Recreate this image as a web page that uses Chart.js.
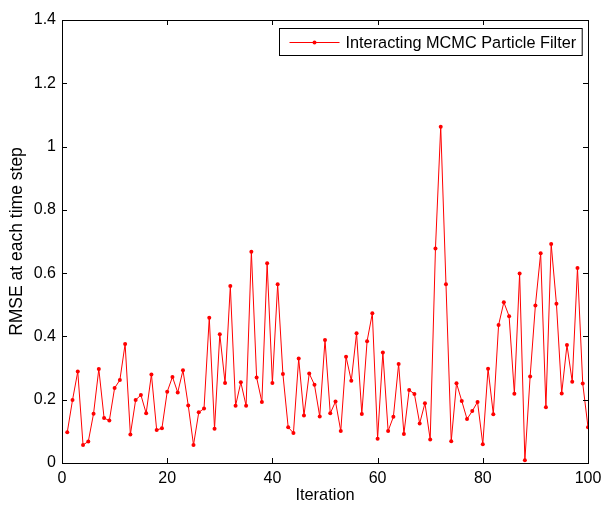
<!DOCTYPE html>
<html>
<head>
<meta charset="utf-8">
<script src="https://cdn.jsdelivr.net/npm/chart.js@4/dist/chart.umd.min.js"></script>
<style>
  body { margin: 0; background: #fff; }
  #wrap { width: 603px; height: 509px; }
</style>
</head>
<body>
<div id="wrap"><canvas id="graph"></canvas></div>
<script>
const seriesLabel = 'Interacting MCMC Particle Filter';
const xTicks = [0, 20, 40, 60, 80, 100];
const yTicks = [0, 0.2, 0.4, 0.6, 0.8, 1, 1.2, 1.4];

// RMSE, iterations 1..100
const rmse = [
    0.097, 0.199, 0.289, 0.057, 0.068, 0.156, 0.297, 0.142, 0.134, 0.237,
    0.262, 0.376, 0.090, 0.199, 0.215, 0.157, 0.280, 0.104, 0.110, 0.225,
    0.272, 0.223, 0.293, 0.182, 0.057, 0.160, 0.172, 0.459, 0.108, 0.407,
    0.253, 0.559, 0.181, 0.255, 0.181, 0.668, 0.270, 0.193, 0.631, 0.253,
    0.565, 0.281, 0.113, 0.095, 0.330, 0.150, 0.283, 0.247, 0.147, 0.389,
    0.157, 0.194, 0.101, 0.336, 0.260, 0.410, 0.155, 0.385, 0.473, 0.077,
    0.349, 0.101, 0.146, 0.313, 0.092, 0.231, 0.218, 0.125, 0.189, 0.074,
    0.678, 1.063, 0.565, 0.069, 0.252, 0.196, 0.139, 0.164, 0.193, 0.059,
    0.298, 0.154, 0.436, 0.508, 0.464, 0.219, 0.599, 0.009, 0.273, 0.498,
    0.663, 0.176, 0.692, 0.503, 0.220, 0.373, 0.257, 0.616, 0.251, 0.113
];

const FONT = '"Liberation Sans", Arial, Helvetica, sans-serif';
const points = rmse.map((v, i) => ({ x: i + 1, y: v }));

// MATLAB-like frame with inward ticks on all four sides, plus boxed legend
const framePlugin = {
    id: 'frame',
    afterDraw(chart) {
        const { ctx, chartArea: a, scales } = chart;
        const len = 5;
        ctx.save();
        ctx.strokeStyle = '#000';
        ctx.lineWidth = 1;
        ctx.strokeRect(Math.round(a.left) + 0.5, Math.round(a.top) + 0.5,
            Math.round(a.right - a.left), Math.round(a.bottom - a.top));
        ctx.beginPath();
        xTicks.forEach(t => {
            let px = Math.round(scales.x.getPixelForValue(t)) + 0.5;
            ctx.moveTo(px, a.bottom); ctx.lineTo(px, a.bottom - len);
            ctx.moveTo(px, a.top); ctx.lineTo(px, a.top + len);
        });
        yTicks.forEach(t => {
            let py = Math.round(scales.y.getPixelForValue(t)) + 0.5;
            ctx.moveTo(a.left, py); ctx.lineTo(a.left + len, py);
            ctx.moveTo(a.right, py); ctx.lineTo(a.right - len, py);
        });
        ctx.stroke();

        // legend box
        ctx.font = '16.3px ' + FONT;
        let tw = ctx.measureText(seriesLabel).width;
        let bw = tw + 72, bh = 27;
        let bx = Math.round(a.right - 6 - bw) + 0.5, by = Math.round(a.top + 8) + 0.5;
        ctx.fillStyle = '#fff';
        ctx.fillRect(bx, by, bw, bh);
        ctx.strokeRect(bx, by, bw, bh);
        let my = Math.round(by + bh / 2) + 0.5;
        ctx.strokeStyle = '#ff0000';
        ctx.beginPath();
        ctx.moveTo(bx + 10, my); ctx.lineTo(bx + 60, my);
        ctx.stroke();
        ctx.fillStyle = '#ff0000';
        ctx.beginPath();
        ctx.arc(bx + 35, my, 2, 0, Math.PI * 2);
        ctx.fill();
        ctx.fillStyle = '#000';
        ctx.textBaseline = 'middle';
        ctx.fillText(seriesLabel, bx + 66, my + 1);
        ctx.restore();
    }
};

const ctx = document.getElementById('graph').getContext('2d');
new Chart(ctx, {
    type: 'line',
    data: {
        datasets: [{
            label: seriesLabel,
            data: points,
            borderColor: '#ff0000',
            backgroundColor: '#ff0000',
            borderWidth: 1,
            pointRadius: 2,
            pointBorderWidth: 0,
            tension: 0,
            fill: false
        }]
    },
    options: {
        responsive: true,
        maintainAspectRatio: false,
        animation: false,
        layout: { padding: { top: 20, right: 15, left: 0, bottom: 0 } },
        plugins: {
            legend: { display: false },
            tooltip: { enabled: false }
        },
        scales: {
            x: {
                type: 'linear',
                min: 0,
                max: 100,
                afterBuildTicks: s => { s.ticks = xTicks.map(v => ({ value: v })); },
                afterFit: s => { s.height = 46; s.paddingLeft = 0; s.paddingRight = 0; },
                grid: { display: false, drawTicks: false },
                border: { display: false },
                ticks: {
                    color: '#000',
                    font: { family: FONT, size: 16 },
                    padding: 6,
                    maxRotation: 0,
                    callback: v => String(v)
                },
                title: {
                    display: true,
                    text: 'Iteration',
                    color: '#000',
                    font: { family: FONT, size: 16.4 },
                    padding: { top: 0 }
                }
            },
            y: {
                min: 0,
                max: 1.4,
                afterBuildTicks: s => { s.ticks = yTicks.map(v => ({ value: v })); },
                afterFit: s => { s.width = 62; s.paddingTop = 0; s.paddingBottom = 0; },
                grid: { display: false, drawTicks: false },
                border: { display: false },
                ticks: {
                    color: '#000',
                    font: { family: FONT, size: 16 },
                    padding: 6,
                    callback: v => String(+v.toFixed(1))
                },
                title: {
                    display: true,
                    text: 'RMSE at each time step',
                    color: '#000',
                    font: { family: FONT, size: 17.5 },
                    padding: { top: 7, bottom: 0 }
                }
            }
        }
    },
    plugins: [framePlugin]
});
</script>
</body>
</html>
